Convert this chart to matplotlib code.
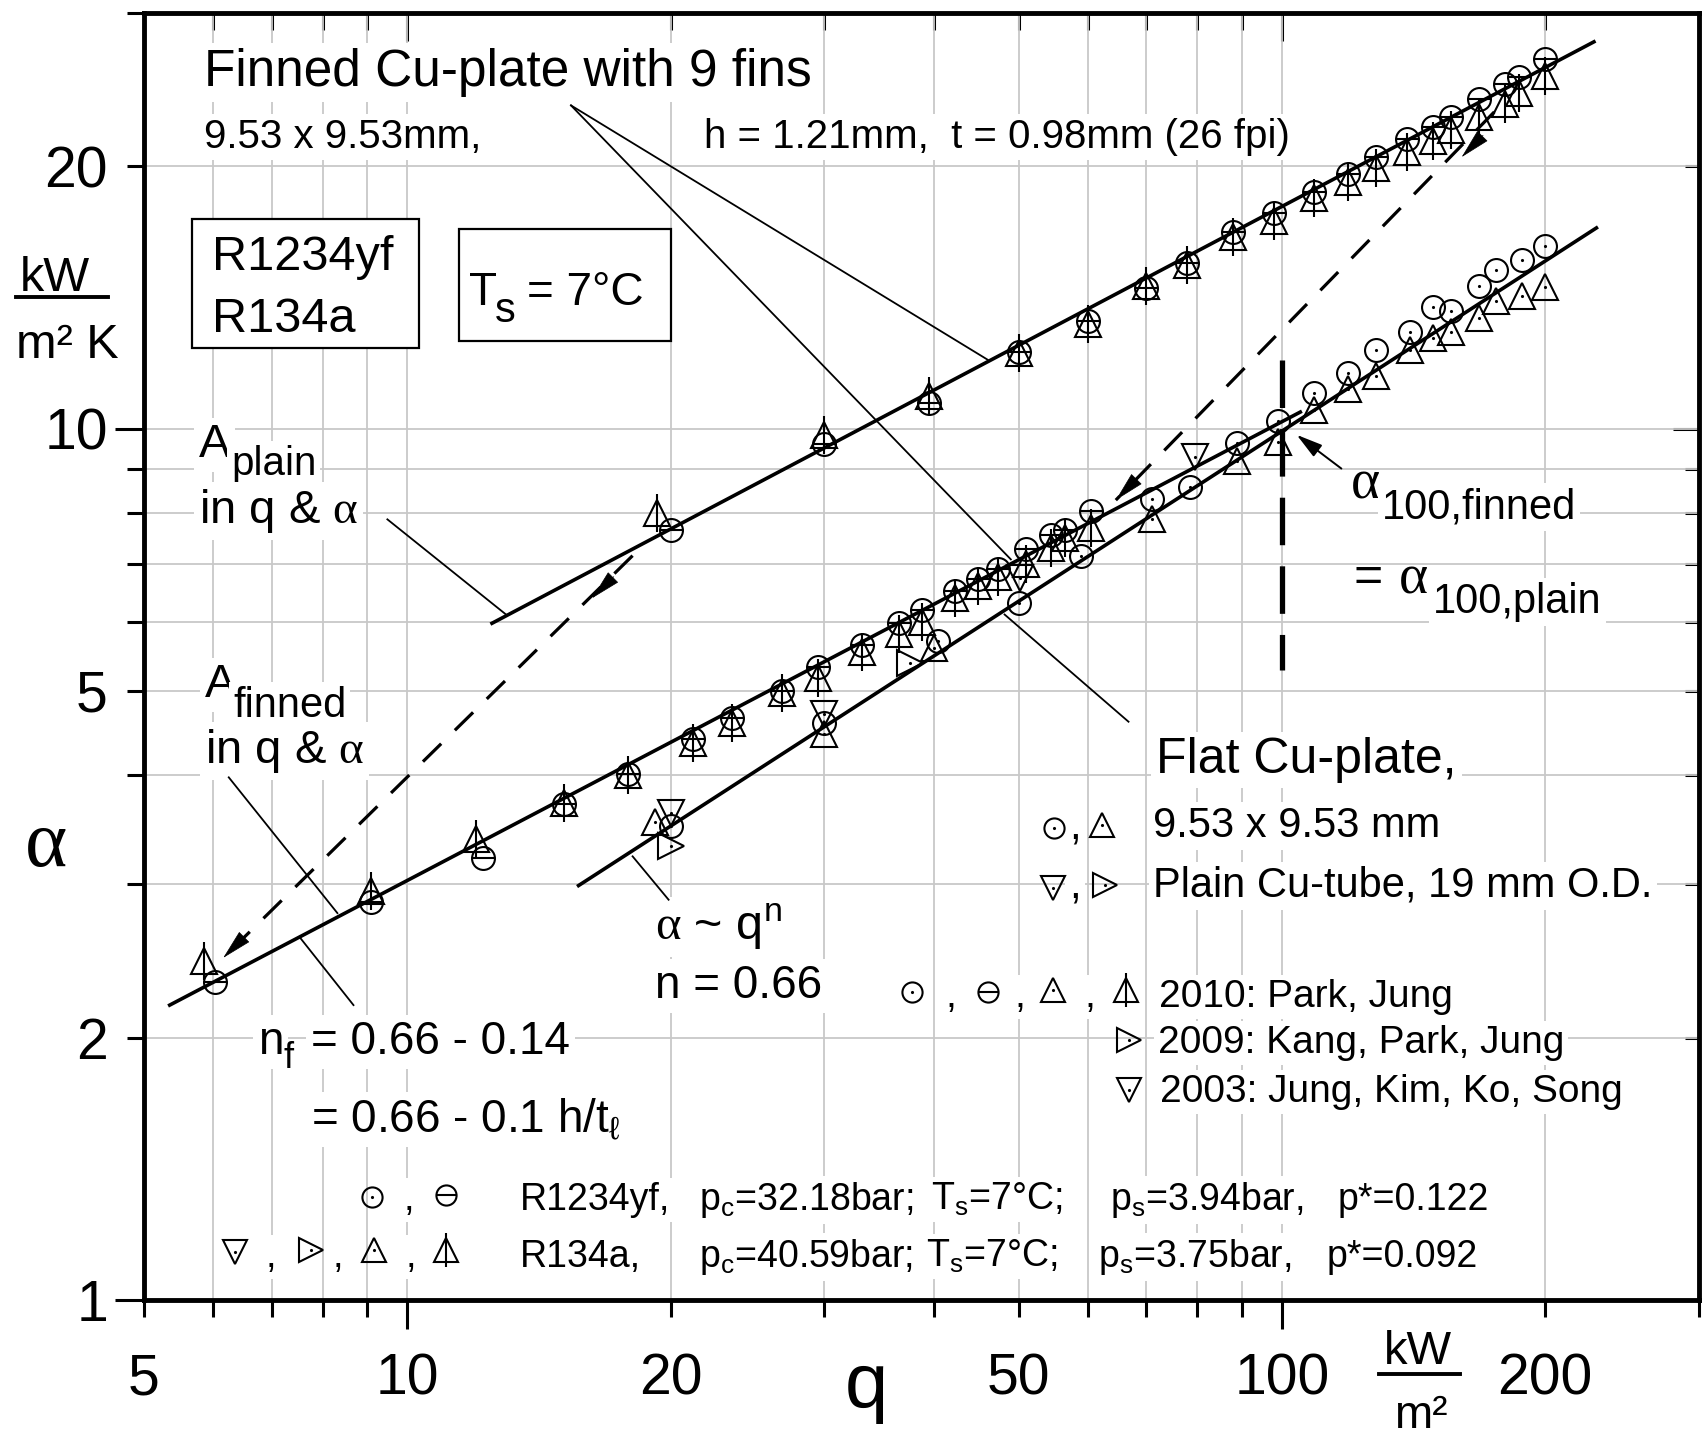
import matplotlib
matplotlib.use('Agg')
import matplotlib.pyplot as plt
from matplotlib.ticker import FixedLocator, FuncFormatter, NullFormatter
from matplotlib.patches import Rectangle

plt.rcParams['font.family'] = ['Liberation Sans', 'DejaVu Sans']
plt.rcParams['mathtext.fontset'] = 'custom'
plt.rcParams['mathtext.rm'] = 'Liberation Sans'
plt.rcParams['mathtext.it'] = 'Liberation Sans'
plt.rcParams['mathtext.cal'] = 'Liberation Serif'

# ---- data (q in kW/m2, alpha in kW/m2K) ----
# finned plate, plotted with the plain area (upper series)
q_fa_yf = [20, 30, 39.5, 50, 60, 70, 78, 88, 98, 109, 119, 128, 139, 149, 156, 168, 180, 187, 200]
a_fa_yf = [7.66, 9.61, 10.7, 12.25, 13.3, 14.5, 15.5, 16.8, 17.7, 18.7, 19.6, 20.5, 21.5, 22.2, 22.8, 23.9, 24.9, 25.3, 26.6]
q_fa_134 = [19.3, 30, 39.5, 50, 60, 70, 78, 88, 98, 109, 119, 128, 139, 149, 156, 168, 180, 187, 200]
a_fa_134 = [8.0, 9.84, 10.9, 12.2, 13.2, 14.6, 15.4, 16.6, 17.3, 18.4, 19.2, 19.9, 20.8, 21.4, 22.0, 22.8, 23.6, 24.3, 25.4]

# finned plate, plotted with the finned area (middle series)
q_ff_yf = [6.03, 9.1, 12.2, 15.1, 17.9, 21.2, 23.5, 26.8, 29.5, 33.1, 36.5, 38.8, 42.3, 45, 47.4, 51, 54.5, 56.5, 60.5]
a_ff_yf = [2.32, 2.86, 3.22, 3.71, 4.02, 4.4, 4.65, 5.0, 5.33, 5.65, 5.98, 6.2, 6.51, 6.72, 6.9, 7.27, 7.56, 7.66, 8.04]
q_ff_134 = [5.85, 9.1, 12.0, 15.1, 17.9, 21.2, 23.5, 26.8, 29.5, 33.1, 36.5, 38.8, 42.3, 45, 47.4, 51, 54.5, 56.5, 60.5]
a_ff_134 = [2.45, 2.95, 3.38, 3.72, 4.0, 4.36, 4.6, 4.97, 5.18, 5.55, 5.81, 6.0, 6.4, 6.6, 6.75, 7.0, 7.3, 7.5, 7.7]

# flat plate (lower series)
q_pl_yf = [20, 30, 40.5, 50, 59, 71, 78.5, 89, 99, 109, 119, 128, 140, 149, 156, 168, 176, 188, 200]
a_pl_yf = [3.5, 4.6, 5.7, 6.31, 7.15, 8.3, 8.58, 9.62, 10.2, 11.0, 11.6, 12.3, 12.9, 13.8, 13.65, 14.6, 15.2, 15.6, 16.2]
q_pl_134 = [19.2, 30, 40, 71, 89, 99, 109, 119, 128, 140, 149, 156, 168, 176, 188, 200]
a_pl_134 = [3.54, 4.46, 5.6, 7.87, 9.17, 9.66, 10.5, 11.1, 11.5, 12.3, 12.7, 12.9, 13.4, 14.0, 14.2, 14.55]

# plain tubes
q_jung = [20, 30, 50.2, 79.6]
a_jung = [3.62, 4.71, 6.74, 9.29]
q_kang = [20, 37.6]
a_kang = [3.32, 5.38]

# fitted lines (end points)
fit_fa_q, fit_fa_a = [12.5, 227.5], [5.98, 27.8]
fit_ff_q, fit_ff_a = [5.35, 105], [2.18, 10.45]
fit_pl_q, fit_pl_a = [15.7, 229], [2.99, 17.0]

# dashed shift arrows and the alpha_100 marker
shift_lo_q, shift_lo_a = [18.1, 6.16], [7.15, 2.47]
shift_hi_q, shift_hi_a = [175, 64.6], [23.1, 8.28]
ref_q, ref_a = [100, 100], [12.0, 5.29]

xmajor = [10, 100]
xminor = [5, 6, 7, 8, 9, 20, 30, 40, 50, 60, 70, 80, 90, 200, 300]
xlabels = [5, 20, 50, 200]
ymajor = [1, 10]
yminor = [2, 3, 4, 5, 6, 7, 8, 9, 20, 30]
ylabels = [2, 5, 20]

W, H = 1702, 1442
fig = plt.figure(figsize=(W / 100, H / 100), dpi=100)
ax = fig.add_axes([144 / W, 1 - 1300 / H, 1555 / W, 1287 / H])
ax.set_xscale('log')
ax.set_yscale('log')


def mark(xs, ys, kind, ms=16.5, **kw):
    shape = {'dotcircle': 'o', 'theta': 'o', 'dotup': '^', 'stileup': '^',
             'dotdown': 'v', 'dotright': '>'}[kind]
    s = ms if shape == 'o' else ms * 1.15
    ax.plot(xs, ys, shape, ms=s, mfc='none', mec='black', mew=1.5, ls='none', zorder=4, **kw)
    if kind == 'theta':
        ax.plot(xs, ys, '_', ms=ms, mew=1.5, color='black', ls='none', zorder=4, **kw)
    elif kind == 'stileup':
        ax.plot(xs, ys, '|', ms=s * 1.45, mew=1.5, color='black', ls='none', zorder=4, **kw)
    else:
        ax.plot(xs, ys, '.', ms=2.5, color='black', ls='none', zorder=4, **kw)


def key(x, y, kind, ms=14.5):
    mark([x / W], [1 - y / H], kind, ms, transform=fig.transFigure, clip_on=False)


def put(x, y, s, size, bg=True, **kw):
    opts = dict(transform=fig.transFigure, fontsize=size, ha='left', va='baseline', zorder=2)
    if bg:
        opts['bbox'] = dict(boxstyle='square,pad=0.1', fc='white', ec='none')
    opts.update(kw)
    ax.text(x / W, 1 - y / H, s, **opts)


def figline(xs, ys, lw=2.5):
    ax.plot([x / W for x in xs], [1 - y / H for y in ys], color='black', lw=lw,
            transform=fig.transFigure, clip_on=False, zorder=3)


def head(q, a, dx, dy):
    ax.annotate('', xy=(q, a), xytext=(dx, dy), textcoords='offset points',
                arrowprops=dict(arrowstyle='-|>,head_length=1.0,head_width=0.24',
                                fc='black', ec='black', lw=0.5, mutation_scale=20,
                                shrinkA=0, shrinkB=0), zorder=5)


# grid
ax.set_axisbelow(True)
ax.grid(which='both', color='#c8c8c8', lw=1.3)

# fitted lines
ax.plot(fit_fa_q, fit_fa_a, color='black', lw=2.6, zorder=3)
ax.plot(fit_ff_q, fit_ff_a, color='black', lw=2.6, zorder=3)
ax.plot(fit_pl_q, fit_pl_a, color='black', lw=2.6, zorder=3)

# dashed arrows
ax.plot(shift_lo_q, shift_lo_a, color='black', lw=2.3, dashes=(8, 6), zorder=3)
ax.plot(shift_hi_q, shift_hi_a, color='black', lw=2.3, dashes=(8, 6), zorder=3)
head(shift_lo_q[1], shift_lo_a[1], 15.6, 15.5)
head(16.27, 6.39, 15.6, 15.5)
head(shift_hi_q[1], shift_hi_a[1], 15.4, 15.7)
head(160.6, 20.5, 15.4, 15.7)
ax.plot(ref_q, ref_a, color='black', lw=3.8, dashes=(9, 4), zorder=3)
ax.annotate('', xy=(104, 9.84), xytext=(117, 9.0),
            arrowprops=dict(arrowstyle='-|>,head_length=0.8,head_width=0.22', fc='black',
                            lw=1.4, mutation_scale=20, shrinkA=0, shrinkB=0), zorder=5)

# leader lines
for (q0, a0), (q1, a1) in [((15.39, 23.5), (46.1, 12.0)), ((15.39, 23.5), (49.0, 7.08)),
                           ((48.2, 6.12), (66.8, 4.61)), ((9.49, 7.87), (12.97, 6.12)),
                           ((6.25, 3.98), (8.32, 2.78)), ((7.53, 2.61), (8.68, 2.18)),
                           ((18.1, 3.23), (19.9, 2.88))]:
    ax.plot([q0, q1], [a0, a1], color='black', lw=1.3, zorder=3)

# data points
mark(q_fa_yf, a_fa_yf, 'theta')
mark(q_fa_134, a_fa_134, 'stileup')
mark(q_ff_yf, a_ff_yf, 'theta')
mark(q_ff_134, a_ff_134, 'stileup')
mark(q_pl_yf, a_pl_yf, 'dotcircle')
mark(q_pl_134, a_pl_134, 'dotup')
mark(q_jung, a_jung, 'dotdown')
mark(q_kang, a_kang, 'dotright')

# axes, ticks
ax.set_xlim(5, 300)
ax.set_ylim(1, 30)
for s in ax.spines.values():
    s.set_linewidth(3.5)
ax.xaxis.set_major_locator(FixedLocator(xmajor))
ax.xaxis.set_minor_locator(FixedLocator(xminor))
ax.yaxis.set_major_locator(FixedLocator(ymajor))
ax.yaxis.set_minor_locator(FixedLocator(yminor))
ax.xaxis.set_major_formatter(FuncFormatter(lambda v, p: '%g' % v))
ax.yaxis.set_major_formatter(FuncFormatter(lambda v, p: '%g' % v))
ax.xaxis.set_minor_formatter(FuncFormatter(lambda v, p: '%g' % v if round(v) in xlabels else ''))
ax.yaxis.set_minor_formatter(FuncFormatter(lambda v, p: '%g' % v if round(v) in ylabels else ''))
ax.tick_params(axis='x', which='major', direction='out', length=21, width=2.2, pad=17, labelsize=41)
ax.tick_params(axis='x', which='minor', direction='out', length=12, width=2.2, pad=26, labelsize=41)
ax.tick_params(axis='y', which='major', direction='out', length=21, width=2.2, pad=5, labelsize=41)
ax.tick_params(axis='y', which='minor', direction='out', length=12, width=2.2, pad=14, labelsize=41)

top = ax.secondary_xaxis('top', functions=(lambda v: v, lambda v: v))
top.xaxis.set_major_locator(FixedLocator(xmajor))
top.xaxis.set_minor_locator(FixedLocator(xminor))
top.xaxis.set_major_formatter(NullFormatter())
top.xaxis.set_minor_formatter(NullFormatter())
top.tick_params(which='major', direction='in', length=20, width=2.2)
top.tick_params(which='minor', direction='in', length=12, width=2.2)
right = ax.secondary_yaxis('right', functions=(lambda v: v, lambda v: v))
right.yaxis.set_major_locator(FixedLocator(ymajor))
right.yaxis.set_minor_locator(FixedLocator(yminor))
right.yaxis.set_major_formatter(NullFormatter())
right.yaxis.set_minor_formatter(NullFormatter())
right.tick_params(which='major', direction='in', length=19, width=2.2)
right.tick_params(which='minor', direction='in', length=10, width=2.2)

# axis titles and units
put(24, 866, r'$\mathcal{α}$', 58, bg=False)
put(20, 291, 'kW', 35, bg=False)
figline([16, 108], [297, 297], lw=2.8)
put(16, 358, 'm² K', 35, bg=False)
put(845, 1408, 'q', 56, bg=False)
put(1384, 1364, 'kW', 34, bg=False)
figline([1379, 1460], [1374, 1374], lw=2.8)
put(1394, 1428, 'm²', 33, bg=False)

# annotations
put(204, 86, 'Finned Cu-plate with 9 fins', 37)
put(204, 148, '9.53 x 9.53mm,', 29)
put(704, 148, 'h = 1.21mm,  t = 0.98mm (26 fpi)', 29)
ax.add_patch(Rectangle((192 / W, 1 - 348 / H), 227 / W, 129 / H, transform=fig.transFigure,
                       fc='white', ec='black', lw=1.6, zorder=2, clip_on=False))
put(212, 270, 'R1234yf', 35, bg=False, zorder=2.5)
put(212, 332, 'R134a', 35, bg=False, zorder=2.5)
ax.add_patch(Rectangle((459 / W, 1 - 341 / H), 212 / W, 112 / H, transform=fig.transFigure,
                       fc='white', ec='black', lw=1.6, zorder=2, clip_on=False))
put(469, 305, 'T', 33, bg=False, zorder=2.5)
put(495, 322, 's', 30, bg=False, zorder=2.5)
put(527, 305, '= 7°C', 33, bg=False, zorder=2.5)

put(199, 457, 'A', 34)
put(231, 475, 'plain', 29)
put(199, 523, r'in q & $\mathcal{α}$', 34)
put(205, 697, 'A', 34)
put(233, 717, 'finned', 30)
put(205, 763, r'in q & $\mathcal{α}$', 34)

put(258, 1054, 'n', 33)
put(283, 1068, 'f', 26, bg=False)
put(311, 1054, '= 0.66 - 0.14', 33)
put(311, 1132, r'= 0.66 - 0.1 h/t$_{\ell}$', 33)
put(655, 940, r'$\mathcal{α}$ ~ q$^{\mathrm{n}}$', 35)
put(655, 998, 'n = 0.66', 33)

put(1350, 497, r'$\mathcal{α}$', 40, bg=False)
put(1382, 518, '100,finned', 30)
put(1354, 591, '=', 36, bg=False)
put(1398, 592, r'$\mathcal{α}$', 40, bg=False)
put(1433, 613, '100,plain', 30)

put(1156, 773, 'Flat Cu-plate,', 36)
key(1054, 828, 'dotcircle')
put(1069, 838, ',', 30)
key(1102, 825, 'dotup')
put(1153, 837, '9.53 x 9.53 mm', 30)
key(1053, 888, 'dotdown')
put(1069, 898, ',', 30)
key(1105, 885, 'dotright')
put(1153, 897, 'Plain Cu-tube, 19 mm O.D.', 30)

key(912, 992, 'dotcircle')
put(945, 1007, ',', 28)
key(988, 992, 'theta')
put(1014, 1007, ',', 28)
key(1053, 990, 'dotup')
put(1084, 1007, ',', 28)
key(1126, 990, 'stileup')
put(1159, 1007, '2010: Park, Jung', 28)
key(1129, 1040, 'dotright')
put(1158, 1053, '2009: Kang, Park, Jung', 28)
key(1129, 1090, 'dotdown')
put(1160, 1102, '2003: Jung, Kim, Ko, Song', 28)

key(372, 1197, 'dotcircle')
put(404, 1210, ',', 27)
key(446, 1195, 'theta')
put(520, 1210, 'R1234yf,', 27)
put(699, 1210, r'p$_\mathrm{c}$=32.18bar;', 27)
put(931, 1210, r'T$_\mathrm{s}$=7°C;', 27)
put(1110, 1210, r'p$_\mathrm{s}$=3.94bar,', 27)
put(1338, 1210, 'p*=0.122', 27)

key(235, 1252, 'dotdown')
put(266, 1267, ',', 27)
key(311, 1250, 'dotright')
put(333, 1267, ',', 27)
key(374, 1250, 'dotup')
put(406, 1267, ',', 27)
key(446, 1250, 'stileup')
put(520, 1267, 'R134a,', 27)
put(699, 1267, r'p$_\mathrm{c}$=40.59bar;', 27)
put(926, 1267, r'T$_\mathrm{s}$=7°C;', 27)
put(1098, 1267, r'p$_\mathrm{s}$=3.75bar,', 27)
put(1327, 1267, 'p*=0.092', 27)

fig.savefig('out.png', dpi=100)
